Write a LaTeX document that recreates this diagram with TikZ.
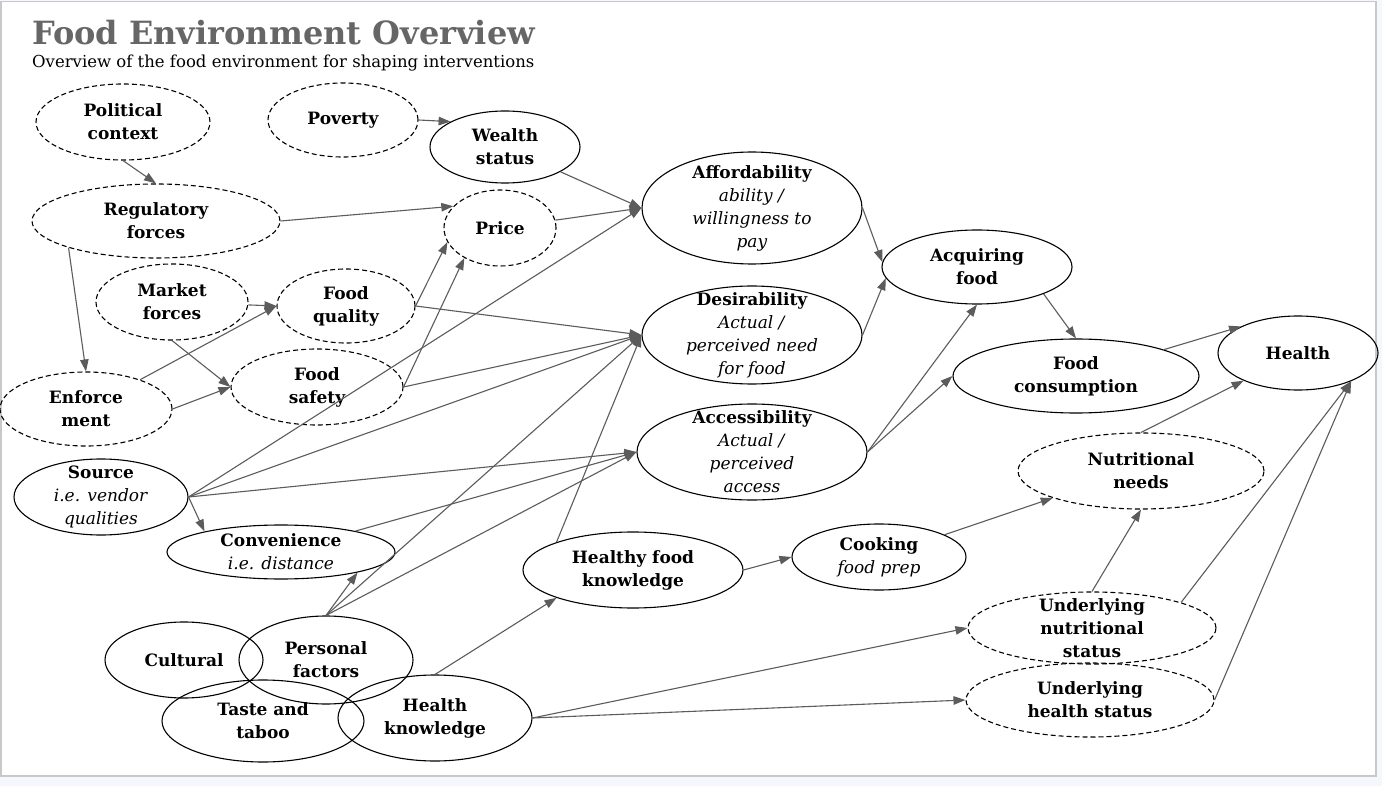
\documentclass[tikz,border=0pt]{standalone}
\usepackage{fontspec}
\setmainfont{DejaVu Serif}
\usepackage{xcolor}
\usetikzlibrary{shapes.geometric,arrows.meta}
\definecolor{linkgray}{HTML}{5C5C5C}
\definecolor{titlegray}{HTML}{666666}
\definecolor{framegray}{HTML}{C8C8C8}
\definecolor{pagetint}{HTML}{F4F8FC}
\newcommand{\detail}[1]{\textnormal{\itshape #1}}

\begin{document}
\begin{tikzpicture}[
    x=1pt, y=-1pt,
    every node/.style={font=\fontsize{17}{23}\selectfont\bfseries},
    factor/.style={ellipse, draw, line width=1.1pt, align=center, inner xsep=-10pt, inner ysep=-30pt},
    context/.style={factor, dash pattern=on 5pt off 3pt},
    link/.style={draw=linkgray, line width=1.1pt, -{Triangle[length=12pt,width=8.5pt]}}
]

% Page and frame
\fill[pagetint] (0,0) rectangle (1382,786);
\useasboundingbox (0,0) rectangle (1382,786);
\draw[framegray, line width=1.5pt, fill=white] (1,1.5) rectangle (1376,776);

% Heading
\node[anchor=base west, inner sep=0pt, text=titlegray, font=\fontsize{32}{38}\selectfont\bfseries] (title) at (32,45) {Food Environment Overview};
\node[anchor=base west, inner sep=0pt, font=\fontsize{16.5}{19}\selectfont] (subtitle) at (32,68) {Overview of the food environment for shaping interventions};

% Upstream context
\node[context, minimum width=174, minimum height=76] (political) at (123,122) {Political\\context};
\node[context, minimum width=150, minimum height=74] (poverty) at (343,120) {Poverty};
\node[factor, minimum width=150, minimum height=72] (wealth) at (505,147) {Wealth\\status};
\node[context, minimum width=248, minimum height=74] (regul) at (156,221) {Regulatory\\forces};
\node[context, minimum width=112, minimum height=76] (price) at (500,228) {Price};
\node[context, minimum width=152, minimum height=76] (market) at (172,302) {Market\\forces};
\node[context, minimum width=138, minimum height=74] (quality) at (346,306) {Food\\quality};
\node[context, minimum width=172, minimum height=74] (enforce) at (86,409) {Enforce\\ment};
\node[context, minimum width=172, minimum height=76] (safety) at (317,387) {Food\\safety};

% Three drivers
\node[factor, minimum width=220, minimum height=112] (afford) at (752,208) {Affordability\\\detail{ability /}\\\detail{willingness to}\\\detail{pay}};
\node[factor, minimum width=220, minimum height=98] (desir) at (752,335) {Desirability\\\detail{Actual /}\\\detail{perceived need}\\\detail{for food}};
\node[factor, minimum width=230, minimum height=96] (access) at (752,452) {Accessibility\\\detail{Actual /}\\\detail{perceived}\\\detail{access}};

% Vendor side
\node[factor, minimum width=174, minimum height=76] (source) at (101,497) {Source\\\detail{i.e. vendor}\\\detail{qualities}};
\node[factor, minimum width=228, minimum height=54] (conv) at (281,552) {Convenience\\\detail{i.e. distance}};

% Personal factors
\node[factor, minimum width=158, minimum height=76] (cultural) at (184,660) {Cultural};
\node[factor, minimum width=174, minimum height=88] (personal) at (326,660) {Personal\\factors};
\node[factor, minimum width=202, minimum height=82] (taste) at (263,721) {Taste and\\taboo};
\node[factor, minimum width=194, minimum height=86] (hk) at (435,718) {Health\\knowledge};
\node[factor, minimum width=220, minimum height=76] (hfk) at (633,570) {Healthy food\\knowledge};
\node[factor, minimum width=174, minimum height=66] (cook) at (879,557) {Cooking\\\detail{food prep}};

% Outcomes
\node[factor, minimum width=190, minimum height=74] (acq) at (977,267) {Acquiring\\food};
\node[factor, minimum width=246, minimum height=74] (cons) at (1076,376) {Food\\consumption};
\node[factor, minimum width=160, minimum height=74] (health) at (1298,353) {Health};
\node[context, minimum width=246, minimum height=76] (needs) at (1141,471) {Nutritional\\needs};
\node[context, minimum width=248, minimum height=72] (unut) at (1092,628) {Underlying\\nutritional\\status};
\node[context, minimum width=248, minimum height=74] (uhealth) at (1090,700) {Underlying\\health status};

% Links
\draw[link] (political.south) -- (regul.north);
\draw[link] (poverty.east) -- (wealth.155);
\draw[link] (regul.east) -- (price.155);
\draw[link] (regul.197) -- (enforce.north);
\draw[link] (wealth) -- (afford.west);
\draw[link] (price) -- (afford.west);
\draw[link] (market) -- (quality.west);
\draw[link] (market.south) -- (safety.west);
\draw[link] (enforce) -- (quality.west);
\draw[link] (enforce.east) -- (safety.west);
\draw[link] (quality.east) -- (desir.west);
\draw[link] (quality.east) -- (price.195);
\draw[link] (safety.east) -- (desir.west);
\draw[link] (safety.east) -- (price.220);
\foreach \t in {afford, desir, access}
    \draw[link] (source.east) -- (\t.west);
\draw[link] (source.east) -- (conv.165);
\draw[link] (conv) -- (access.west);
\draw[link] (personal.north) -- (conv.-15);
\foreach \t in {desir, access}
    \draw[link] (personal.north) -- (\t.west);
\draw[link] (hfk.160) -- (desir.west);
\draw[link] (hk.north) -- (hfk.200);
\draw[link] (hfk.east) -- (cook.west);
\draw[link] (cook) -- (needs.197);
\draw[link] (hk.east) -- (unut.west);
\draw[link] (hk.east) -- (uhealth.west);
\draw[link] (unut.north) -- (needs.south);
\draw[link] (unut.16) -- (health.-28);
\draw[link] (uhealth.east) -- (health.-28);
\draw[link] (needs.north) -- (health.207);
\draw[link] (cons) -- (health.155);
\draw[link] (acq.-22) -- (cons.north);
\draw[link] (afford.east) -- (acq.177);
\draw[link] (desir.east) -- (acq.187);
\draw[link] (access.east) -- (acq.south);
\draw[link] (access.east) -- (cons.west);

\end{tikzpicture}
\end{document}
